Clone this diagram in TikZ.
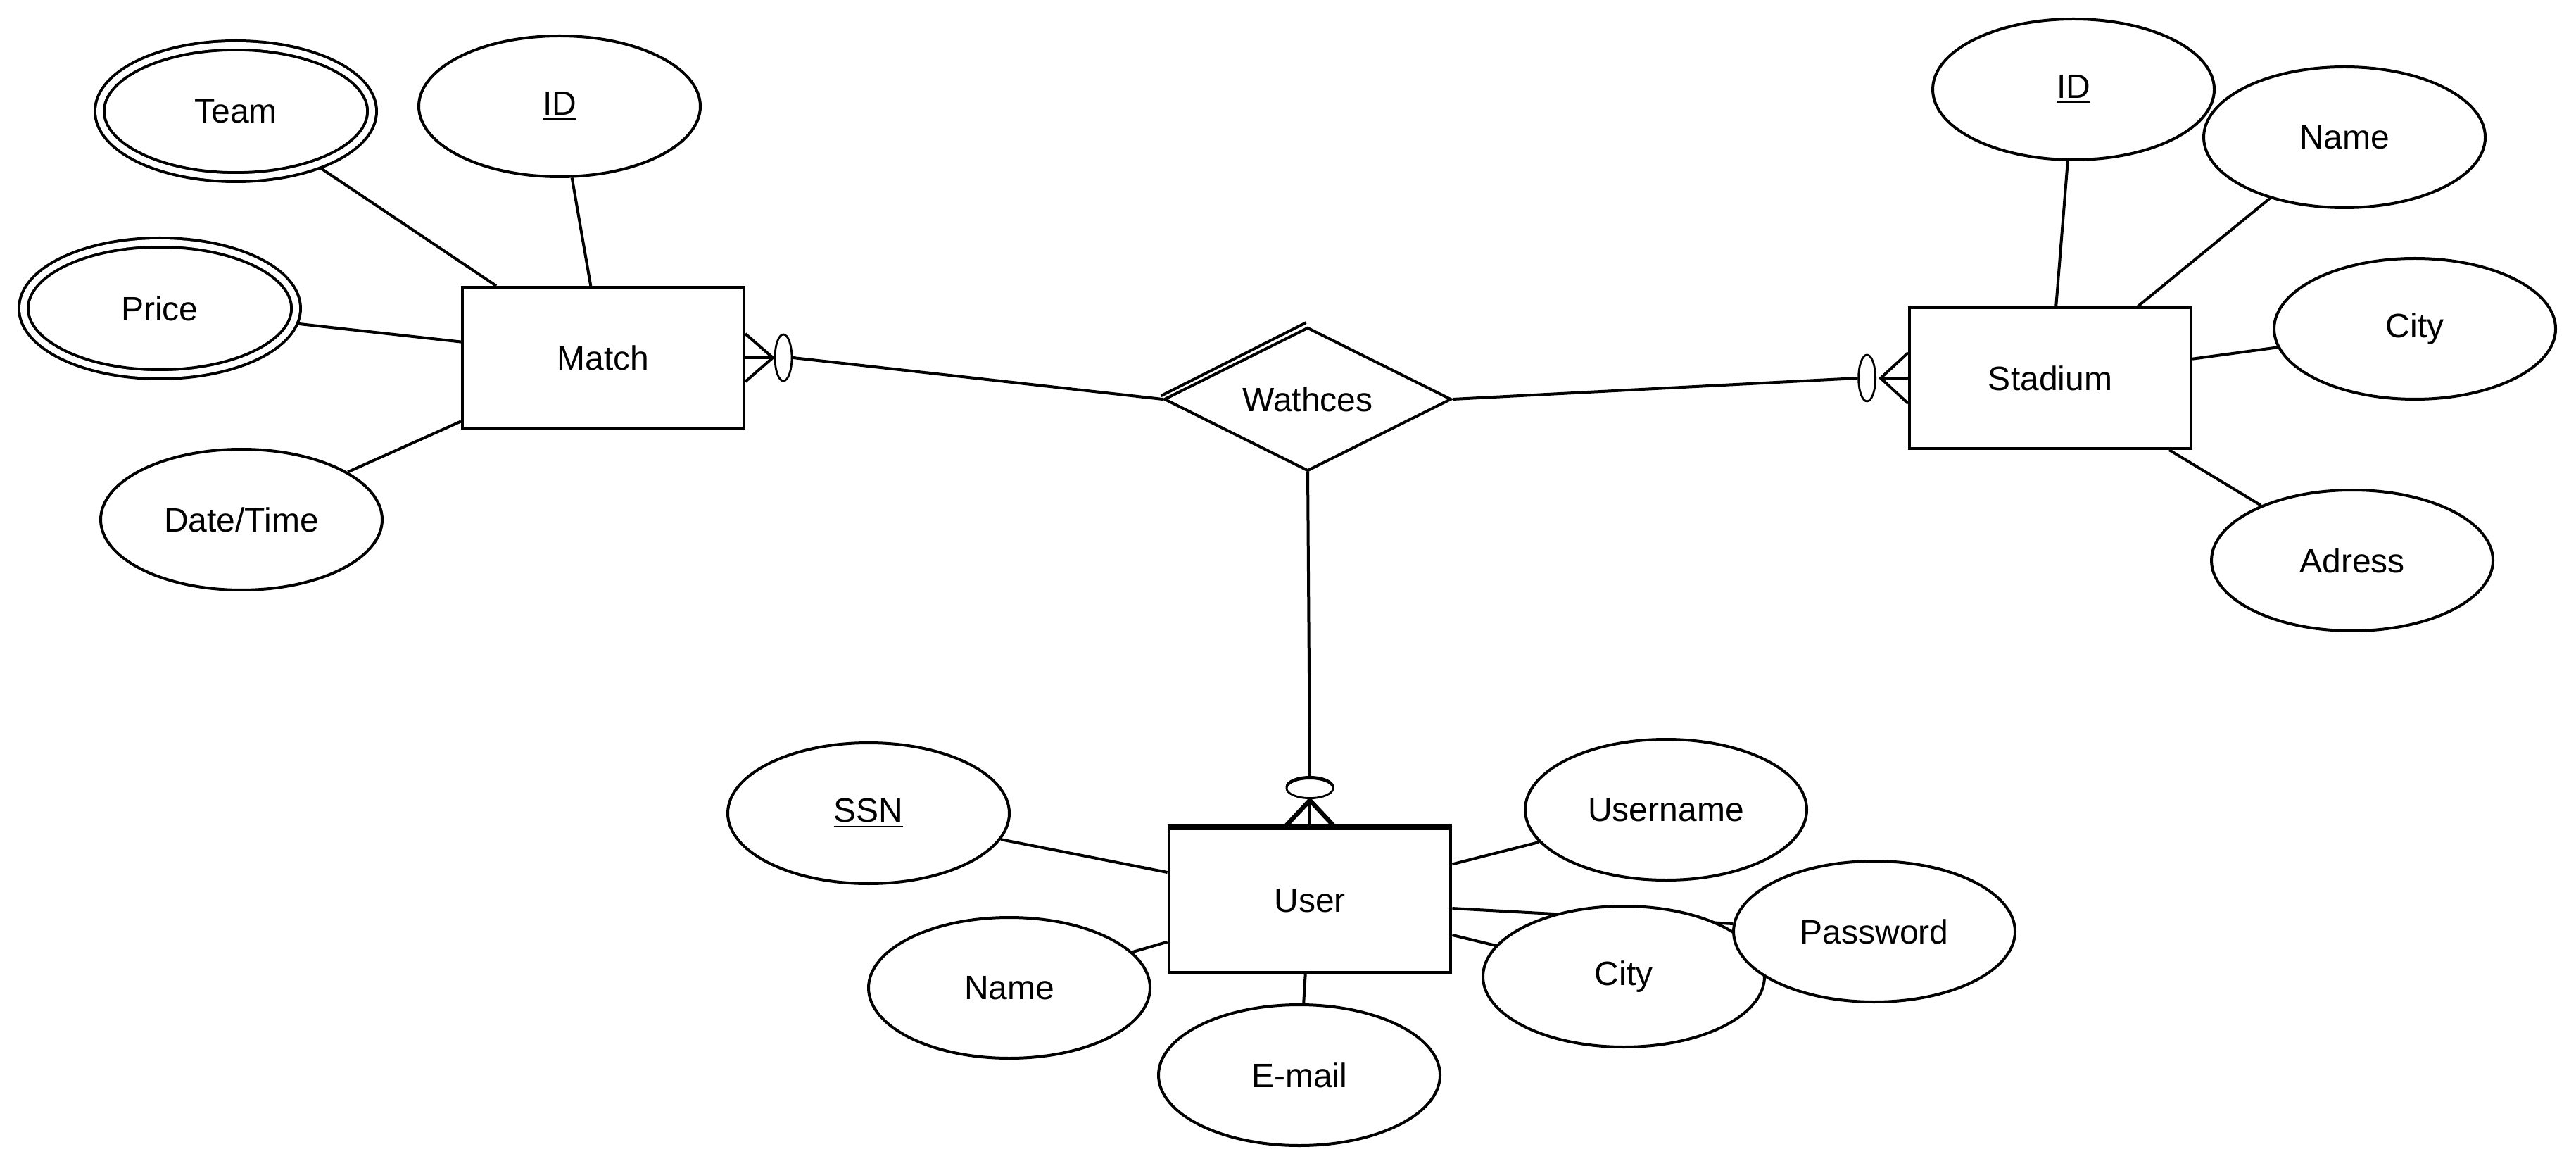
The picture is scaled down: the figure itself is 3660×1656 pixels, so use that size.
\documentclass[tikz,border=0pt]{standalone}
\usepackage{tikz}
\usepackage{fontspec}
\setmainfont{Liberation Sans}
\usetikzlibrary{shapes.geometric,backgrounds}
\begin{document}
\begin{tikzpicture}[x=0.25pt,y=-0.25pt,line width=1pt]
						\tikzstyle{attr}=[ellipse,draw=black,fill=white,minimum width=100pt,minimum height=50pt,inner sep=0pt,font=\fontsize{12}{14}\selectfont]
						\tikzstyle{multi}=[attr,double,double distance=2.2pt,minimum width=96.8pt,minimum height=46.8pt]
						\tikzstyle{entity}=[rectangle,draw=black,fill=white,minimum width=100pt,minimum height=50pt,inner sep=0pt,font=\fontsize{12}{14}\selectfont]
						\tikzstyle{rel}=[diamond,aspect=2,draw=black,fill=white,minimum width=102pt,minimum height=51pt,inner sep=0pt,font=\fontsize{12}{14}\selectfont]
						\tikzstyle{zero}=[ellipse,draw=black,fill=white,minimum width=6pt,minimum height=16.5pt,inner sep=0pt,line width=0.7pt]
						\tikzstyle{link}=[draw=black,line width=1pt]
						\useasboundingbox (0,0) rectangle (3660,1656);
						\node[entity](e1) at (857,508) {Match};
						\node[entity](e2) at (2913,537) {Stadium};
						\node[entity,line width=1.2pt,minimum height=51pt](e3) at (1861,1279) {User};
						\node[rel](r1) at (1858,567) {Wathces};
						\node[multi](a1) at (335,158) {Team};
						\node[attr](a2) at (795,151) {\underline{ID}};
						\node[multi](a3) at (227,438) {Price};
						\node[attr](a4) at (343,738) {Date/Time};
						\node[attr](a5) at (2946,127) {\underline{ID}};
						\node[attr](a6) at (3331,195) {Name};
						\node[attr](a7) at (3431,467) {City};
						\node[attr](a8) at (3342,796) {Adress};
						\node[attr](a9) at (1234,1155) {\underline{SSN}};
						\node[attr](a10) at (2367,1150) {Username};
						\node[attr](a11) at (1434,1403) {Name};
						\node[attr](a12) at (1846,1527) {E-mail};
						\node[attr](a13) at (2307,1387) {City};
						\node[attr](a14) at (2663,1323) {Password};
						\node[zero](c1) at ([xshift=13.5pt]e1.east) {};
						\node[zero](c2) at ([xshift=-14.6pt]e2.west) {};
						\draw[line width=0.7pt] ([yshift=14.3pt]e3.north) ellipse (8.25pt and 3.5pt);
						\node[zero,minimum width=16.5pt,minimum height=7pt](c3) at ([yshift=13.75pt]e3.north) {};
						\draw[line width=2.2pt] (e3.north west) -- (e3.north east);
						\draw[link] ([shift={(-0.6pt,1.2pt)}]r1.west) -- ([shift={(-0.6pt,1.2pt)}]r1.north);
						\begin{pgfonlayer}{background}
						\draw[link] (a1) -- (e1);
						\draw[link] (a2) -- (e1);
						\draw[link] (a3) -- (e1);
						\draw[link] (a4) -- (e1);
						\draw[link] (a5) -- (e2);
						\draw[link] (a6) -- (e2);
						\draw[link] (a7) -- (e2);
						\draw[link] (a8) -- (e2);
						\draw[link] (a9) -- (e3);
						\draw[link] (a10) -- (e3);
						\draw[link] (a11) -- (e3);
						\draw[link] (a12) -- (e3);
						\draw[link] (a13) -- (e3);
						\draw[link] (a14) -- (e3);
						\draw[link] (r1.west) -- (c1.east);
						\draw[link] (r1.east) -- (c2.west);
						\draw[link] (r1.south) -- (c3.north);
						\draw[link] ([yshift=8.5pt]e1.east) -- ([xshift=9.75pt]e1.east) -- ([yshift=-8.5pt]e1.east);
						\draw[link] (e1.east) -- ([xshift=9.75pt]e1.east);
						\draw[link] ([yshift=9pt]e2.west) -- ([xshift=-9.75pt]e2.west) -- ([yshift=-9pt]e2.west);
						\draw[link] (e2.west) -- ([xshift=-9.75pt]e2.west);
						\draw[link,line width=1.6pt] ([xshift=-8.9pt]e3.north) -- ([yshift=9.5pt]e3.north) -- ([xshift=8.9pt]e3.north);
						\draw[link] (e3.north) -- ([yshift=9.5pt]e3.north);
						\end{pgfonlayer}
					\end{tikzpicture}
\end{document}
